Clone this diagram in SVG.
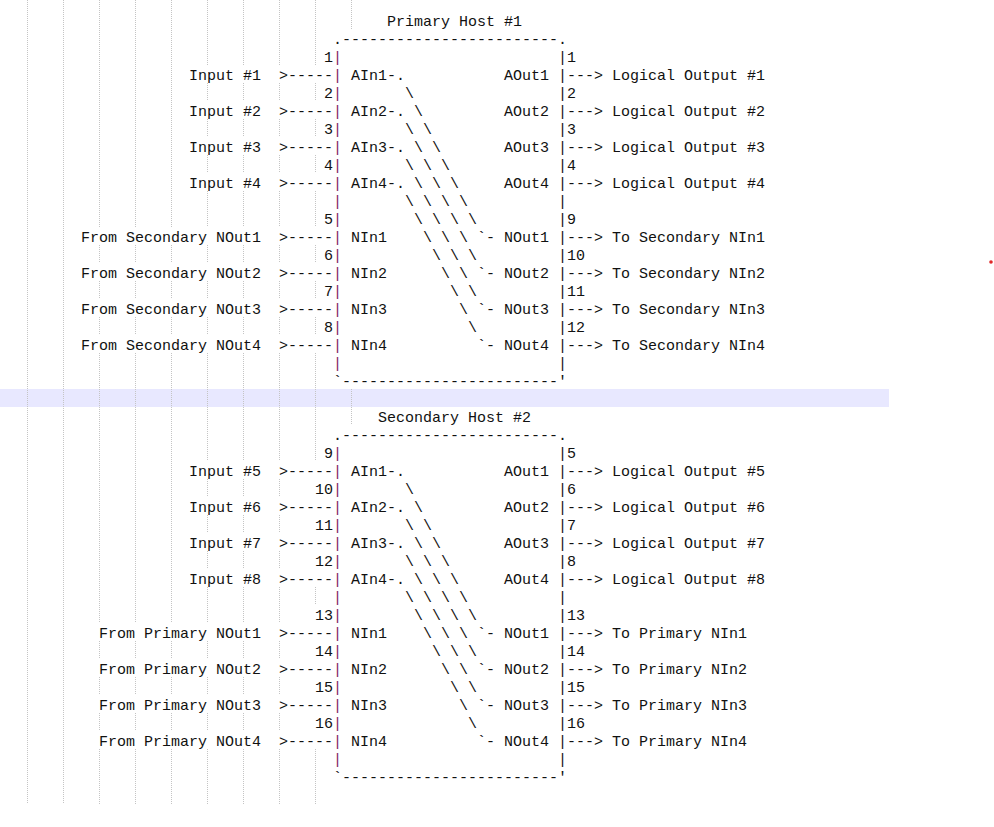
<svg xmlns="http://www.w3.org/2000/svg" width="994" height="827" viewBox="0 0 994 827">
<style>
.t{font-family:"Liberation Mono","Courier New",monospace;font-size:15px;fill:#111}
.p{fill:#7d1d5e}
.g{fill:none;stroke:#c4c4c4;stroke-width:1;stroke-dasharray:1 1;shape-rendering:crispEdges}
</style>
<rect id="current-line" x="0" y="389" width="889" height="18" fill="#e8e8ff"/>
<g id="indent-guides">
<path class="g" d="M27.5 0V804M63.5 0V804"/>
<path class="g" d="M99.5 0V227M99.5 245V263M99.5 281V299M99.5 317V335M99.5 353V623M99.5 641V659M99.5 677V695M99.5 713V731M99.5 749V804M135.5 0V227M135.5 245V263M135.5 281V299M135.5 317V335M135.5 353V623M135.5 641V659M135.5 677V695M135.5 713V731M135.5 749V804M171.5 0V227M171.5 245V263M171.5 281V299M171.5 317V335M171.5 353V623M171.5 641V659M171.5 677V695M171.5 713V731M171.5 749V804"/>
<path class="g" d="M207.5 0V65M207.5 83V101M207.5 119V137M207.5 155V173M207.5 191V227M207.5 245V263M207.5 281V299M207.5 317V335M207.5 353V461M207.5 479V497M207.5 515V533M207.5 551V569M207.5 587V623M207.5 641V659M207.5 677V695M207.5 713V731M207.5 749V804M243.5 0V65M243.5 83V101M243.5 119V137M243.5 155V173M243.5 191V227M243.5 245V263M243.5 281V299M243.5 317V335M243.5 353V461M243.5 479V497M243.5 515V533M243.5 551V569M243.5 587V623M243.5 641V659M243.5 677V695M243.5 713V731M243.5 749V804M279.5 0V65M279.5 83V101M279.5 119V137M279.5 155V173M279.5 191V227M279.5 245V263M279.5 281V299M279.5 317V335M279.5 353V461M279.5 479V497M279.5 515V533M279.5 551V569M279.5 587V623M279.5 641V659M279.5 677V695M279.5 713V731M279.5 749V804"/>
<path class="g" d="M315.5 0V65M315.5 83V101M315.5 119V137M315.5 155V173M315.5 191V227M315.5 245V263M315.5 281V299M315.5 317V335M315.5 353V461M315.5 587V605M315.5 749V804M351.5 0V29M351.5 389V425"/>
</g>
<circle id="marker-dot" cx="991" cy="262" r="1.8" fill="#e02828"/>

<g id="host1" class="t">
<text x="387" y="25.5">Primary Host #1</text>
<text x="333" y="43.5">.------------------------.</text>
<text x="324" y="61.5">1</text><text class="t p" x="333" y="61.5">|</text><text x="558" y="61.5">|1</text>
<text class="t p" x="333" y="79.5">|</text><text x="351" y="79.5">AIn1</text><text x="504" y="79.5">AOut1</text><text x="558" y="79.5">|</text>
<text x="324" y="97.5">2</text><text class="t p" x="333" y="97.5">|</text><text x="558" y="97.5">|2</text>
<text class="t p" x="333" y="115.5">|</text><text x="351" y="115.5">AIn2</text><text x="504" y="115.5">AOut2</text><text x="558" y="115.5">|</text>
<text x="324" y="133.5">3</text><text class="t p" x="333" y="133.5">|</text><text x="558" y="133.5">|3</text>
<text class="t p" x="333" y="151.5">|</text><text x="351" y="151.5">AIn3</text><text x="504" y="151.5">AOut3</text><text x="558" y="151.5">|</text>
<text x="324" y="169.5">4</text><text class="t p" x="333" y="169.5">|</text><text x="558" y="169.5">|4</text>
<text class="t p" x="333" y="187.5">|</text><text x="351" y="187.5">AIn4</text><text x="504" y="187.5">AOut4</text><text x="558" y="187.5">|</text>
<text class="t p" x="333" y="205.5">|</text><text x="558" y="205.5">|</text>
<text x="324" y="223.5">5</text><text class="t p" x="333" y="223.5">|</text><text x="558" y="223.5">|9</text>
<text class="t p" x="333" y="241.5">|</text><text x="351" y="241.5">NIn1</text><text x="504" y="241.5">NOut1</text><text x="558" y="241.5">|</text>
<text x="324" y="259.5">6</text><text class="t p" x="333" y="259.5">|</text><text x="558" y="259.5">|10</text>
<text class="t p" x="333" y="277.5">|</text><text x="351" y="277.5">NIn2</text><text x="504" y="277.5">NOut2</text><text x="558" y="277.5">|</text>
<text x="324" y="295.5">7</text><text class="t p" x="333" y="295.5">|</text><text x="558" y="295.5">|11</text>
<text class="t p" x="333" y="313.5">|</text><text x="351" y="313.5">NIn3</text><text x="504" y="313.5">NOut3</text><text x="558" y="313.5">|</text>
<text x="324" y="331.5">8</text><text class="t p" x="333" y="331.5">|</text><text x="558" y="331.5">|12</text>
<text class="t p" x="333" y="349.5">|</text><text x="351" y="349.5">NIn4</text><text x="504" y="349.5">NOut4</text><text x="558" y="349.5">|</text>
<text class="t p" x="333" y="367.5">|</text><text x="558" y="367.5">|</text>
<text x="333" y="385.5">`------------------------'</text>
</g>

<g id="host1-inputs" class="t">
<text x="189" y="79.5">Input #1</text>
<text x="189" y="115.5">Input #2</text>
<text x="189" y="151.5">Input #3</text>
<text x="189" y="187.5">Input #4</text>
<text x="81" y="241.5">From Secondary NOut1</text>
<text x="81" y="277.5">From Secondary NOut2</text>
<text x="81" y="313.5">From Secondary NOut3</text>
<text x="81" y="349.5">From Secondary NOut4</text>
</g>
<g id="host1-outputs" class="t">
<text x="612" y="79.5">Logical Output #1</text>
<text x="612" y="115.5">Logical Output #2</text>
<text x="612" y="151.5">Logical Output #3</text>
<text x="612" y="187.5">Logical Output #4</text>
<text x="612" y="241.5">To Secondary NIn1</text>
<text x="612" y="277.5">To Secondary NIn2</text>
<text x="612" y="313.5">To Secondary NIn3</text>
<text x="612" y="349.5">To Secondary NIn4</text>
</g>

<g id="host2" class="t">
<text x="378" y="421.5">Secondary Host #2</text>
<text x="333" y="439.5">.------------------------.</text>
<text x="324" y="457.5">9</text><text class="t p" x="333" y="457.5">|</text><text x="558" y="457.5">|5</text>
<text class="t p" x="333" y="475.5">|</text><text x="351" y="475.5">AIn1</text><text x="504" y="475.5">AOut1</text><text x="558" y="475.5">|</text>
<text x="315" y="493.5">10</text><text class="t p" x="333" y="493.5">|</text><text x="558" y="493.5">|6</text>
<text class="t p" x="333" y="511.5">|</text><text x="351" y="511.5">AIn2</text><text x="504" y="511.5">AOut2</text><text x="558" y="511.5">|</text>
<text x="315" y="529.5">11</text><text class="t p" x="333" y="529.5">|</text><text x="558" y="529.5">|7</text>
<text class="t p" x="333" y="547.5">|</text><text x="351" y="547.5">AIn3</text><text x="504" y="547.5">AOut3</text><text x="558" y="547.5">|</text>
<text x="315" y="565.5">12</text><text class="t p" x="333" y="565.5">|</text><text x="558" y="565.5">|8</text>
<text class="t p" x="333" y="583.5">|</text><text x="351" y="583.5">AIn4</text><text x="504" y="583.5">AOut4</text><text x="558" y="583.5">|</text>
<text class="t p" x="333" y="601.5">|</text><text x="558" y="601.5">|</text>
<text x="315" y="619.5">13</text><text class="t p" x="333" y="619.5">|</text><text x="558" y="619.5">|13</text>
<text class="t p" x="333" y="637.5">|</text><text x="351" y="637.5">NIn1</text><text x="504" y="637.5">NOut1</text><text x="558" y="637.5">|</text>
<text x="315" y="655.5">14</text><text class="t p" x="333" y="655.5">|</text><text x="558" y="655.5">|14</text>
<text class="t p" x="333" y="673.5">|</text><text x="351" y="673.5">NIn2</text><text x="504" y="673.5">NOut2</text><text x="558" y="673.5">|</text>
<text x="315" y="691.5">15</text><text class="t p" x="333" y="691.5">|</text><text x="558" y="691.5">|15</text>
<text class="t p" x="333" y="709.5">|</text><text x="351" y="709.5">NIn3</text><text x="504" y="709.5">NOut3</text><text x="558" y="709.5">|</text>
<text x="315" y="727.5">16</text><text class="t p" x="333" y="727.5">|</text><text x="558" y="727.5">|16</text>
<text class="t p" x="333" y="745.5">|</text><text x="351" y="745.5">NIn4</text><text x="504" y="745.5">NOut4</text><text x="558" y="745.5">|</text>
<text class="t p" x="333" y="763.5">|</text><text x="558" y="763.5">|</text>
<text x="333" y="781.5">`------------------------'</text>
</g>

<g id="host2-inputs" class="t">
<text x="189" y="475.5">Input #5</text>
<text x="189" y="511.5">Input #6</text>
<text x="189" y="547.5">Input #7</text>
<text x="189" y="583.5">Input #8</text>
<text x="99" y="637.5">From Primary NOut1</text>
<text x="99" y="673.5">From Primary NOut2</text>
<text x="99" y="709.5">From Primary NOut3</text>
<text x="99" y="745.5">From Primary NOut4</text>
</g>
<g id="host2-outputs" class="t">
<text x="612" y="475.5">Logical Output #5</text>
<text x="612" y="511.5">Logical Output #6</text>
<text x="612" y="547.5">Logical Output #7</text>
<text x="612" y="583.5">Logical Output #8</text>
<text x="612" y="637.5">To Primary NIn1</text>
<text x="612" y="673.5">To Primary NIn2</text>
<text x="612" y="709.5">To Primary NIn3</text>
<text x="612" y="745.5">To Primary NIn4</text>
</g>

<g id="connectors" class="t">
<text x="279" y="79.5">&gt;-----</text><text x="279" y="115.5">&gt;-----</text><text x="279" y="151.5">&gt;-----</text><text x="279" y="187.5">&gt;-----</text>
<text x="279" y="241.5">&gt;-----</text><text x="279" y="277.5">&gt;-----</text><text x="279" y="313.5">&gt;-----</text><text x="279" y="349.5">&gt;-----</text>
<text x="567" y="79.5">---&gt;</text><text x="567" y="115.5">---&gt;</text><text x="567" y="151.5">---&gt;</text><text x="567" y="187.5">---&gt;</text>
<text x="567" y="241.5">---&gt;</text><text x="567" y="277.5">---&gt;</text><text x="567" y="313.5">---&gt;</text><text x="567" y="349.5">---&gt;</text>
<text x="387" y="79.5">-.</text>
<text x="405" y="97.5">\</text>
<text x="387" y="115.5">-. \</text>
<text x="405" y="133.5">\ \</text>
<text x="387" y="151.5">-. \ \</text>
<text x="405" y="169.5">\ \ \</text>
<text x="387" y="187.5">-. \ \ \</text>
<text x="405" y="205.5">\ \ \ \</text>
<text x="414" y="223.5">\ \ \ \</text>
<text x="423" y="241.5">\ \ \ `-</text>
<text x="432" y="259.5">\ \ \</text>
<text x="441" y="277.5">\ \ `-</text>
<text x="450" y="295.5">\ \</text>
<text x="459" y="313.5">\ `-</text>
<text x="468" y="331.5">\</text>
<text x="477" y="349.5">`-</text>

<text x="279" y="475.5">&gt;-----</text><text x="279" y="511.5">&gt;-----</text><text x="279" y="547.5">&gt;-----</text><text x="279" y="583.5">&gt;-----</text>
<text x="279" y="637.5">&gt;-----</text><text x="279" y="673.5">&gt;-----</text><text x="279" y="709.5">&gt;-----</text><text x="279" y="745.5">&gt;-----</text>
<text x="567" y="475.5">---&gt;</text><text x="567" y="511.5">---&gt;</text><text x="567" y="547.5">---&gt;</text><text x="567" y="583.5">---&gt;</text>
<text x="567" y="637.5">---&gt;</text><text x="567" y="673.5">---&gt;</text><text x="567" y="709.5">---&gt;</text><text x="567" y="745.5">---&gt;</text>
<text x="387" y="475.5">-.</text>
<text x="405" y="493.5">\</text>
<text x="387" y="511.5">-. \</text>
<text x="405" y="529.5">\ \</text>
<text x="387" y="547.5">-. \ \</text>
<text x="405" y="565.5">\ \ \</text>
<text x="387" y="583.5">-. \ \ \</text>
<text x="405" y="601.5">\ \ \ \</text>
<text x="414" y="619.5">\ \ \ \</text>
<text x="423" y="637.5">\ \ \ `-</text>
<text x="432" y="655.5">\ \ \</text>
<text x="441" y="673.5">\ \ `-</text>
<text x="450" y="691.5">\ \</text>
<text x="459" y="709.5">\ `-</text>
<text x="468" y="727.5">\</text>
<text x="477" y="745.5">`-</text>
</g>
</svg>
